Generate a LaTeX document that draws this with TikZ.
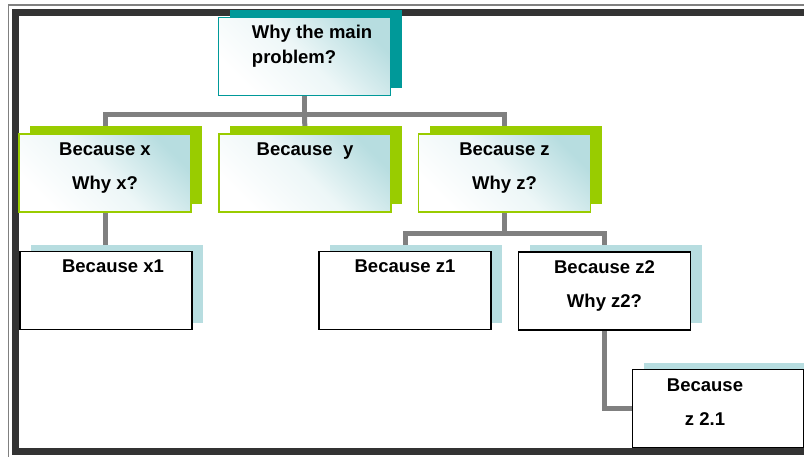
\documentclass[tikz,border=0pt]{standalone}
\usepackage{fontspec}
\setmainfont{Liberation Sans}
\usetikzlibrary{positioning, shadows, backgrounds, calc}
\definecolor{leaf}{HTML}{99CC00}
\definecolor{sea}{HTML}{009999}
\definecolor{pale}{HTML}{B7DDE0}
\definecolor{linkgray}{HTML}{808080}
\definecolor{rim}{HTML}{333333}

\begin{document}
\begin{tikzpicture}[x=1pt, y=-1pt,
  box/.style = {rectangle, minimum width=172pt, minimum height=78pt, inner sep=0pt, line width=1.5pt},
  why/.style = {box, draw=sea, top color=pale, bottom color=white, middle color=white!75!pale, shading angle=-45, general shadow={fill=sea, shadow xshift=11pt, shadow yshift=8pt}},
  cause/.style = {box, draw=leaf, top color=pale, bottom color=white, middle color=white!75!pale, shading angle=-45, general shadow={fill=leaf, shadow xshift=11pt, shadow yshift=8pt}},
  leafbox/.style = {box, draw=black, fill=white, general shadow={fill=pale, shadow xshift=11pt, shadow yshift=7pt}},
  txt/.style = {inner sep=0pt, align=center, anchor=base, font=\bfseries\fontsize{18.5}{34}\selectfont},
  link/.style = {draw=linkgray, line width=5pt}]
  \useasboundingbox (0,0) rectangle (804,456);
  \clip (0,0) rectangle (804,456);
  \draw[linkgray, line width=1.5pt] (8.5,5) rectangle (830,470);
  \draw[rim, line width=6.5pt] (15.5,12.7) rectangle (820,451.5);

  \node[why] (top) at (304.5,56.5) {};
  \node[cause] (bx) at (105,173) {};
  \node[cause] (by) at (305,173) {};
  \node[cause] (bz) at (504.5,173) {};
  \node[leafbox] (bx1) at (106,290.5) {};
  \node[leafbox] (bz1) at (405,290.5) {};
  \node[leafbox] (bz2) at (604.5,291) {};
  \node[leafbox, minimum width=171pt] (bz21) at (718,408.5) {};

  \node[txt, anchor=base west, align=left, font=\bfseries\fontsize{18.5}{25}\selectfont] (top-t) at ($(top.north west)+(34,47)$) {Why the main\\problem?};
  \node[txt] (bx-t) at ($(bx.north)+(0,56)$) {Because x\\Why x?};
  \node[txt] (by-t) at ($(by.north)+(0,22)$) {Because\ \ y};
  \node[txt] (bz-t) at ($(bz.north)+(0,56)$) {Because z\\Why z?};
  \node[txt] (bx1-t) at ($(bx1.north)+(7,22)$) {Because x1};
  \node[txt] (bz1-t) at ($(bz1.north)+(0,22)$) {Because z1};
  \node[txt] (bz2-t) at ($(bz2.north)+(0,56)$) {Because z2\\Why z2?};
  \node[txt] (bz21-t) at ($(bz21.north)+(-13,57)$) {Because\\z 2.1};

  \coordinate (bus) at (305,114);
  \coordinate (bus2) at (505,233);
  \begin{pgfonlayer}{background}
    \draw[link] (top.south) -- (top.south |- bus) -| (bx.north);
    \draw[link] (top.south |- bus) -| (bz.north);
    \draw[link] (top.south |- bus) -- (by.north);
    \draw[link] (bx.south) -- (bx.south |- bx1.north);
    \draw[link] (bz.south) -- (bz.south |- bus2) -| (bz1.north);
    \draw[link] (bz.south |- bus2) -| (bz2.north);
    \draw[link] (bz2.south) |- (bz21.west);
  \end{pgfonlayer}
\end{tikzpicture}
\end{document}
